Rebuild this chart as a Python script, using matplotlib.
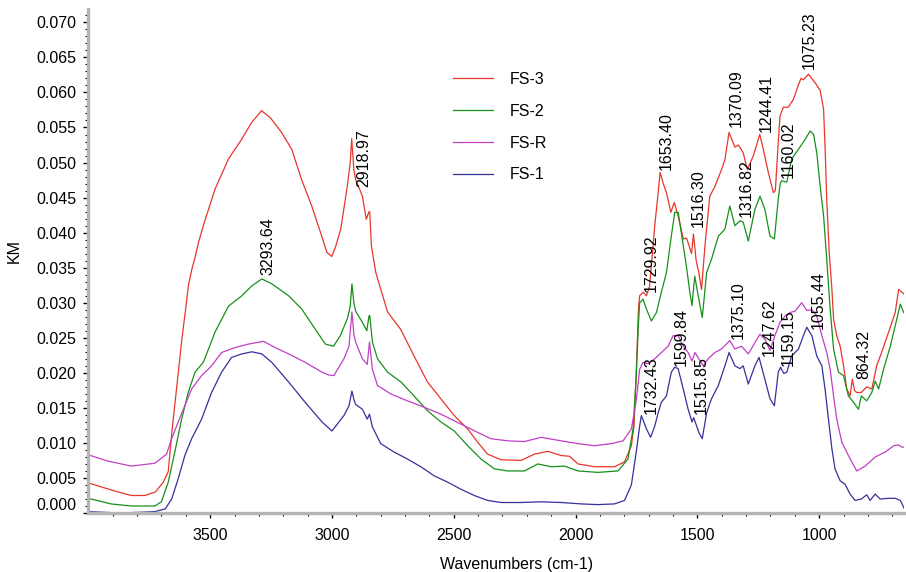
import numpy as np
import matplotlib.pyplot as plt

plt.rcParams['font.family'] = ['Liberation Sans', 'DejaVu Sans']
plt.rcParams['font.size'] = 11.5

# FS-3
wn_fs3 = [4000, 3898, 3824, 3768, 3725, 3692, 3672, 3657, 3637, 3616, 3602, 3589, 3575, 3561, 3547, 3528, 3480,
          3425, 3371, 3330, 3289, 3253, 3207, 3165, 3125, 3083, 3042, 3021, 3001, 2985, 2964, 2937, 2925,
          2919, 2910, 2903, 2875, 2859, 2849, 2845, 2838, 2820, 2772, 2718, 2663, 2608, 2553, 2498, 2443,
          2402, 2361, 2306, 2224, 2169, 2114, 2059, 2025, 1990, 1922, 1840, 1799, 1771, 1760, 1751, 1742,
          1737, 1723, 1709, 1696, 1675, 1661, 1653, 1640, 1627, 1609, 1595, 1579, 1558, 1544, 1524, 1516,
          1505, 1494, 1483, 1469, 1449, 1428, 1401, 1387, 1370, 1346, 1332, 1312, 1295, 1271, 1244, 1230,
          1209, 1188, 1180, 1168, 1161, 1147, 1127, 1106, 1085, 1075, 1065, 1044, 1017, 996, 982, 976,
          969, 959, 948, 941, 928, 914, 900, 887, 873, 864, 855, 846, 827, 805, 784, 764,
          744, 715, 688, 674, 660, 650]
km_fs3 = [.0043, .0032, .0025, .0025, .0030, .0044, .0059, .0116, .0181, .0248, .0287, .0325, .0348, .0366, .0387, .0410, .0462,
          .0505, .0533, .0557, .0574, .0564, .0543, .0519, .0476, .0438, .0395, .0372, .0366, .0380, .0405, .0466, .0500,
          .0534, .0490, .0476, .0452, .0419, .0429, .0430, .0381, .0343, .0287, .0262, .0224, .0187, .0163, .0139, .0120,
          .0101, .0084, .0076, .0075, .0084, .0088, .0082, .0081, .0070, .0066, .0066, .0073, .0096, .0125, .0200, .0290,
          .0310, .0315, .0310, .0324, .0410, .0457, .0486, .0470, .0457, .0429, .0443, .0424, .0391, .0392, .0370, .0398,
          .0360, .0343, .0319, .0381, .0452, .0466, .0490, .0504, .0543, .0522, .0525, .0514, .0490, .0509, .0540, .0520,
          .0486, .0457, .0460, .0529, .0566, .0579, .0579, .0590, .0611, .0620, .0618, .0626, .0614, .0603, .0576, .0523,
          .0447, .0372, .0320, .0277, .0253, .0238, .0210, .0177, .0167, .0191, .0175, .0172, .0172, .0180, .0177, .0210,
          .0229, .0258, .0286, .0319, .0315, .0312]

# FS-2
wn_fs2 = [4000, 3907, 3823, 3727, 3700, 3672, 3645, 3617, 3590, 3562, 3528, 3480, 3425, 3370, 3329, 3288,
          3247, 3178, 3124, 3068, 3027, 2993, 2966, 2937, 2925, 2918, 2910, 2903, 2875, 2857, 2848, 2845,
          2834, 2813, 2772, 2717, 2663, 2608, 2553, 2498, 2443, 2388, 2333, 2279, 2210, 2155, 2100, 2046,
          1990, 1908, 1826, 1785, 1764, 1751, 1742, 1737, 1723, 1709, 1689, 1668, 1648, 1627, 1607, 1593,
          1579, 1566, 1545, 1531, 1522, 1511, 1494, 1480, 1462, 1442, 1414, 1387, 1367, 1346, 1325, 1312,
          1291, 1264, 1243, 1223, 1202, 1184, 1168, 1160, 1154, 1133, 1113, 1085, 1058, 1037, 1023, 1010,
          996, 982, 969, 955, 941, 921, 900, 880, 859, 839, 827, 805, 784, 770, 756, 736,
          708, 688, 667, 653]
km_fs2 = [.0021, .0013, .0010, .0010, .0016, .0044, .0087, .0134, .0172, .0201, .0215, .0258, .0295, .0310, .0324, .0334,
          .0327, .0310, .0291, .0262, .0241, .0238, .0253, .0277, .0295, .0327, .0300, .0288, .0272, .0260, .0281, .0282,
          .0244, .0220, .0201, .0187, .0167, .0146, .0130, .0117, .0096, .0077, .0063, .0060, .0060, .0070, .0066, .0067,
          .0060, .0058, .0060, .0077, .0120, .0196, .0270, .0300, .0305, .0291, .0274, .0286, .0315, .0343, .0395, .0429,
          .0429, .0400, .0352, .0315, .0296, .0338, .0305, .0279, .0343, .0362, .0395, .0405, .0438, .0410, .0417, .0415,
          .0388, .0433, .0452, .0433, .0395, .0391, .0448, .0470, .0474, .0472, .0505, .0519, .0533, .0545, .0540, .0514,
          .0466, .0424, .0362, .0291, .0234, .0201, .0196, .0167, .0158, .0148, .0167, .0160, .0172, .0188, .0177, .0205,
          .0238, .0267, .0298, .0286]

# FS-R
wn_fsr = [4000, 3919, 3823, 3727, 3679, 3658, 3631, 3604, 3576, 3535, 3494, 3453, 3398, 3343, 3281, 3233,
          3178, 3110, 3041, 3014, 2992, 2951, 2930, 2918, 2910, 2903, 2875, 2855, 2846, 2834, 2813, 2759,
          2690, 2622, 2553, 2471, 2402, 2347, 2279, 2210, 2141, 2059, 1990, 1922, 1853, 1805, 1771, 1751,
          1737, 1723, 1702, 1675, 1648, 1620, 1600, 1579, 1558, 1538, 1522, 1510, 1494, 1476, 1456, 1428,
          1401, 1367, 1346, 1319, 1291, 1264, 1243, 1223, 1202, 1182, 1161, 1140, 1120, 1099, 1072, 1051,
          1030, 1010, 989, 969, 955, 941, 928, 907, 880, 846, 811, 770, 729, 694, 674, 660,
          650]
km_fsr = [.0083, .0074, .0067, .0071, .0084, .0106, .0130, .0153, .0177, .0196, .0210, .0229, .0236, .0241, .0245, .0236,
          .0227, .0215, .0201, .0197, .0196, .0220, .0238, .0287, .0255, .0244, .0220, .0212, .0244, .0205, .0182, .0170,
          .0160, .0151, .0141, .0127, .0115, .0106, .0103, .0102, .0108, .0103, .0099, .0096, .0099, .0103, .0120, .0160,
          .0205, .0215, .0213, .0220, .0229, .0238, .0253, .0253, .0238, .0229, .0217, .0229, .0220, .0210, .0220, .0229,
          .0234, .0246, .0234, .0238, .0227, .0243, .0255, .0248, .0232, .0253, .0272, .0281, .0286, .0288, .0300, .0289,
          .0290, .0281, .0253, .0229, .0205, .0167, .0134, .0101, .0082, .0060, .0067, .0080, .0087, .0096, .0097, .0094,
          .0094]

# FS-1
wn_fs1 = [4000, 3864, 3727, 3684, 3658, 3631, 3604, 3576, 3535, 3494, 3453, 3412, 3370, 3329, 3288, 3247,
          3178, 3110, 3041, 3000, 2951, 2930, 2918, 2910, 2903, 2875, 2855, 2846, 2834, 2800, 2745, 2690,
          2635, 2580, 2525, 2471, 2416, 2361, 2306, 2224, 2141, 2059, 1977, 1908, 1840, 1799, 1771, 1751,
          1737, 1730, 1709, 1692, 1675, 1661, 1648, 1627, 1607, 1593, 1579, 1558, 1538, 1522, 1515, 1494,
          1480, 1462, 1442, 1414, 1387, 1370, 1346, 1325, 1312, 1291, 1264, 1247, 1223, 1202, 1184, 1168,
          1159, 1145, 1133, 1113, 1085, 1065, 1051, 1030, 1010, 989, 976, 962, 948, 935, 914, 894,
          873, 853, 827, 805, 791, 770, 750, 715, 688, 667, 650]
km_fs1 = [.0002, .0000, .0002, .0006, .0020, .0049, .0082, .0106, .0134, .0172, .0201, .0222, .0227, .0230, .0227, .0215,
          .0187, .0158, .0130, .0117, .0139, .0153, .0174, .0162, .0155, .0148, .0134, .0141, .0123, .0099, .0087, .0077,
          .0066, .0053, .0044, .0034, .0025, .0018, .0015, .0015, .0016, .0015, .0013, .0012, .0013, .0018, .0040, .0087,
          .0124, .0139, .0120, .0108, .0124, .0143, .0158, .0167, .0201, .0208, .0206, .0177, .0148, .0130, .0136, .0115,
          .0106, .0143, .0163, .0182, .0210, .0229, .0210, .0206, .0210, .0184, .0210, .0222, .0191, .0163, .0153, .0201,
          .0208, .0199, .0201, .0224, .0234, .0253, .0265, .0253, .0224, .0210, .0177, .0134, .0092, .0063, .0046, .0041,
          .0027, .0018, .0020, .0026, .0018, .0027, .0020, .0021, .0021, .0018, .0006]

# peak labels: text, wavenumber and KM of the label's lower end
lbl_text = ["3293.64", "2918.97", "1729.92", "1653.40", "1516.30", "1370.09", "1316.82", "1244.41", "1160.02",
            "1075.23", "1732.43", "1599.84", "1515.85", "1375.10", "1247.62", "1159.15", "1055.44", "864.32"]
lbl_wn = [3261, 2870, 1690, 1628, 1496, 1340, 1299, 1217, 1126, 1039, 1690, 1567, 1484, 1332, 1204, 1126, 1003, 817]
lbl_km = [.0339, .0465, .0315, .0490, .0408, .0550, .0423, .0544, .0478, .0633, .0141, .0210, .0141, .0248, .0224,
          .0210, .0262, .0191]

fig = plt.figure(figsize=(9.06, 5.72), dpi=100)
ax = fig.add_axes([0.0975, 0.1031, 0.9008, 0.8811])

ax.plot(wn_fs3, km_fs3, color="#e8362b", lw=0.9, label="FS-3")
ax.plot(wn_fs2, km_fs2, color="#17901a", lw=0.9, label="FS-2")
ax.plot(wn_fsr, km_fsr, color="#c23fc4", lw=0.9, label="FS-R")
ax.plot(wn_fs1, km_fs1, color="#35319a", lw=0.9, label="FS-1")

for t, x, y in zip(lbl_text, lbl_wn, lbl_km):
    ax.text(x, y, t, rotation=90, ha="center", va="bottom", fontsize=11.5)

ax.set_xlim(4000, 650)
ax.set_ylim(0.0001, 0.0719)
ax.set_xticks([3500, 3000, 2500, 2000, 1500, 1000])
ax.set_xticks(np.arange(3900, 650, -100), minor=True)
ax.set_yticks(np.arange(0, 0.0701, 0.005))
ax.set_yticks(np.arange(0, 0.0715, 0.001), minor=True)
ax.set_yticklabels(["%.3f" % v for v in np.arange(0, 0.0701, 0.005)])
ax.get_yticklabels()[0].set_verticalalignment("bottom")

for s in ["top", "right"]:
    ax.spines[s].set_visible(False)
for s in ["left", "bottom"]:
    ax.spines[s].set_color("#b4b4b4")
    ax.spines[s].set_linewidth(2.4)
ax.tick_params(which="major", length=3.5, width=1, color="black", pad=5)
ax.tick_params(which="minor", length=2, width=0.8, color="black")
ax.tick_params(axis="x", pad=7)

ax.set_xlabel("Wavenumbers (cm-1)")
ax.xaxis.set_label_coords(0.525, -0.087)
ax.set_ylabel("KM")
ax.yaxis.set_label_coords(-0.082, 0.52)

ax.legend(loc="upper left", bbox_to_anchor=(453 / 906, 1 - 72 / 572), bbox_transform=fig.transFigure,
          frameon=False, borderpad=0, borderaxespad=0, handlelength=2.5, handletextpad=1.05, labelspacing=1.05)

plt.savefig("out.png", dpi=100)
